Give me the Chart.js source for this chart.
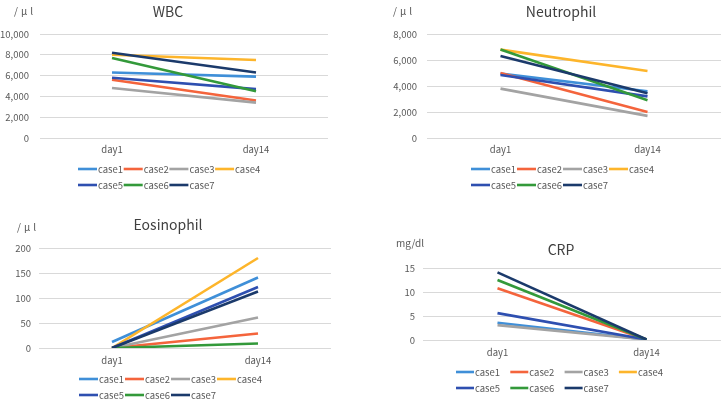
<!DOCTYPE html>
<html>
<head>
<meta charset="utf-8">
<script src="https://cdn.jsdelivr.net/npm/chart.js@4/dist/chart.umd.min.js"></script>
<style>
  html, body { margin: 0; padding: 0; background: #fff; }
  body { width: 728px; height: 404px; position: relative; overflow: hidden; }
  .box { position: absolute; }
</style>
</head>
<body>
<div class="box" style="left:0;top:0;width:364px;height:200px"><canvas id="c1"></canvas></div>
<div class="box" style="left:364px;top:0;width:364px;height:200px"><canvas id="c2"></canvas></div>
<div class="box" style="left:0;top:200px;width:364px;height:204px"><canvas id="c3"></canvas></div>
<div class="box" style="left:364px;top:200px;width:364px;height:204px"><canvas id="c4"></canvas></div>
<script>
// ---- data ----
const categories = ['day1', 'day14'];
const caseNames = ['case1', 'case2', 'case3', 'case4', 'case5', 'case6', 'case7'];
const caseColors = ['#3F8FD8', '#F4643C', '#A3A3A3', '#FDB52B', '#2E4FB0', '#33993A', '#1B3A6B'];

const wbcDay1  = [6300, 5600, 4800, 8000, 5800, 7700, 8200];
const wbcDay14 = [5900, 3600, 3400, 7500, 4700, 4500, 6300];

const neutDay1  = [4950, 5000, 3800, 6800, 4850, 6800, 6300];
const neutDay14 = [3600, 2000, 1700, 5150, 3200, 2900, 3450];

const eosDay1  = [12, 0, 0, 0, 0, 0, 0];
const eosDay14 = [141, 29, 61, 180, 122, 9, 113];

const crpDay1  = [3.6, 10.8, 3.1, null, 5.6, 12.5, 14.1];
const crpDay14 = [0.1, 0.1, 0.1, null, 0.1, 0.1, 0.1];

const wbcTicks = [0, 10000, 2000];
const neutTicks = [0, 8000, 2000];
const eosTicks = [0, 200, 50];
const crpTicks = [0, 15, 5];

// ---- drawing ----
const FONT = "'Noto Sans CJK JP', 'Noto Sans', sans-serif";
const TXT = '#595959';

const decoPlugin = {
  id: 'deco',
  afterDraw(chart, args, o) {
    const ctx = chart.ctx;
    ctx.save();
    ctx.fillStyle = '#404040';
    ctx.font = `14px ${FONT}`;
    ctx.textAlign = 'center';
    ctx.textBaseline = 'middle';
    ctx.fillText(o.title, o.titleX, o.titleY);
    ctx.fillStyle = TXT;
    ctx.font = `10px ${FONT}`;
    ctx.textAlign = 'left';
    ctx.letterSpacing = o.unitSpacing || '0px';
    ctx.fillText(o.unit, o.unitX, o.unitY);
    ctx.letterSpacing = '0px';
    // legend
    ctx.font = `9.5px ${FONT}`;
    chart.data.datasets.forEach((ds, i) => {
      const row = i < 4 ? 0 : 1;
      const col = i < 4 ? i : i - 4;
      const x = o.legX + col * o.legStride;
      const y = o.legY[row];
      ctx.strokeStyle = ds.borderColor;
      ctx.lineWidth = 2.6;
      ctx.beginPath();
      ctx.moveTo(x, y);
      ctx.lineTo(x + o.swatch, y);
      ctx.stroke();
      ctx.fillStyle = TXT;
      ctx.fillText(ds.label, x + o.swatch + 1, y);
    });
    ctx.restore();
  }
};

function makeChart(id, day1, day14, ticks, cfg) {
  const datasets = caseNames.map((name, i) => ({
    label: name,
    data: [day1[i], day14[i]],
    borderColor: caseColors[i],
    backgroundColor: caseColors[i],
    borderWidth: 2.6,
    pointRadius: 0,
    tension: 0,
    order: caseNames.length - i
  }));
  return new Chart(document.getElementById(id), {
    type: 'line',
    data: { labels: categories, datasets },
    options: {
      responsive: true,
      maintainAspectRatio: false,
      animation: false,
      events: [],
      layout: { padding: { left: 0, right: cfg.R, top: cfg.T, bottom: 0 } },
      plugins: {
        legend: { display: false },
        tooltip: { enabled: false },
        deco: cfg.deco
      },
      scales: {
        x: {
          offset: true,
          grid: { display: false, drawTicks: false },
          border: { display: false },
          ticks: { color: TXT, font: { family: FONT, size: 9.5 }, padding: cfg.xPad, maxRotation: 0 },
          afterFit(s) { s.height = cfg.xH; }
        },
        y: {
          min: ticks[0], max: ticks[1],
          grid: { color: '#D9D9D9', lineWidth: 1, drawTicks: false },
          border: { display: false },
          ticks: {
            stepSize: ticks[2],
            color: TXT,
            font: { family: FONT, size: 9.5 },
            padding: cfg.yPad,
            callback: v => v.toLocaleString('en-US')
          },
          afterFit(s) { s.width = cfg.L; }
        }
      }
    },
    plugins: [decoPlugin]
  });
}

makeChart('c1', wbcDay1, wbcDay14, wbcTicks, {
  L: 40, R: 36, T: 34, xH: 62, xPad: 6, yPad: 11,
  deco: { title: 'WBC', titleX: 168, titleY: 12, unit: '/μl', unitSpacing: '3px', unitX: 14, unitY: 11,
          legX: 78, legY: [169, 185], legStride: 45.7, swatch: 19 }
});
makeChart('c2', neutDay1, neutDay14, neutTicks, {
  L: 63, R: 7, T: 34, xH: 62, xPad: 6, yPad: 10,
  deco: { title: 'Neutrophil', titleX: 197, titleY: 12, unit: '/μl', unitSpacing: '3px', unitX: 29, unitY: 11,
          legX: 107, legY: [169, 185], legStride: 46, swatch: 19 }
});
makeChart('c3', eosDay1, eosDay14, eosTicks, {
  L: 39, R: 33, T: 48, xH: 56, xPad: 7, yPad: 8,
  deco: { title: 'Eosinophil', titleX: 168, titleY: 25, unit: '/μl', unitSpacing: '3px', unitX: 17, unitY: 27,
          legX: 79, legY: [179, 195], legStride: 46, swatch: 19 }
});
makeChart('c4', crpDay1, crpDay14, crpTicks, {
  L: 59, R: 7, T: 68, xH: 64, xPad: 7, yPad: 8,
  deco: { title: 'CRP', titleX: 197, titleY: 50, unit: 'mg/dl', unitX: 32, unitY: 43,
          legX: 92, legY: [172, 188], legStride: 54.3, swatch: 18 }
});
</script>
</body>
</html>
